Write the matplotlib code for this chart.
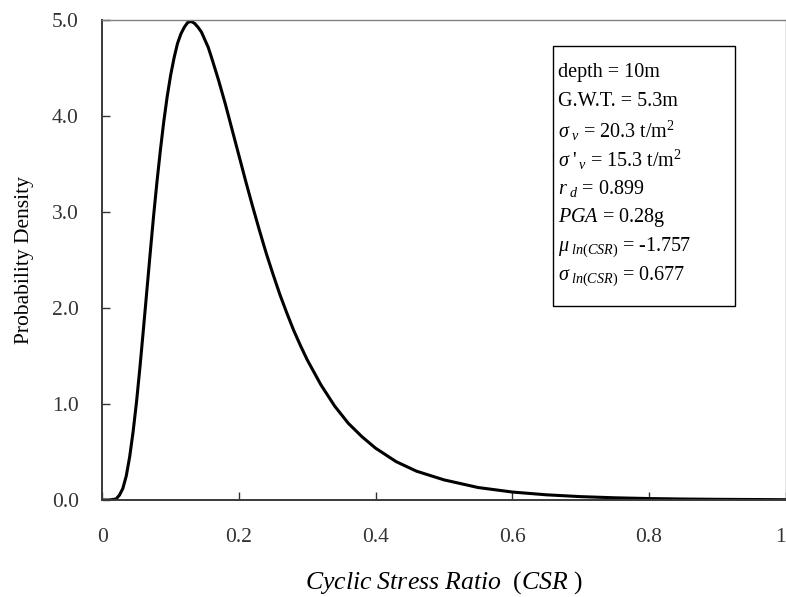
import matplotlib
matplotlib.use("Agg")
import matplotlib.pyplot as plt
from matplotlib.patches import Rectangle

plt.rcParams['font.family'] = ['Liberation Serif', 'DejaVu Serif']
plt.rcParams['mathtext.fontset'] = 'custom'
plt.rcParams['mathtext.rm'] = 'Liberation Serif'
plt.rcParams['mathtext.it'] = 'Liberation Serif:italic'
plt.rcParams['mathtext.bf'] = 'Liberation Serif:bold'

# curve (CSR, probability density)
csr = [0.00, 0.01, 0.02, 0.025, 0.03, 0.035, 0.04, 0.045, 0.05, 0.055,
       0.06, 0.065, 0.07, 0.075, 0.08, 0.085, 0.09, 0.095, 0.10, 0.105,
       0.11, 0.115, 0.12, 0.125, 0.13, 0.135, 0.14, 0.145, 0.15, 0.155,
       0.16, 0.17, 0.18, 0.19, 0.20, 0.21,
       0.22, 0.23, 0.24, 0.25, 0.26, 0.27, 0.28, 0.29, 0.30, 0.32,
       0.34, 0.36, 0.38, 0.40, 0.43, 0.46, 0.50, 0.55, 0.60, 0.65,
       0.70, 0.75, 0.80, 0.85, 0.90, 0.95, 1.00]
density = [0.00, 0.00, 0.01, 0.05, 0.12, 0.25, 0.45, 0.71, 1.02, 1.38,
           1.77, 2.17, 2.57, 2.96, 3.32, 3.65, 3.95, 4.21, 4.43, 4.61,
           4.76, 4.86, 4.93, 4.98, 4.99, 4.97, 4.93, 4.88, 4.80, 4.72,
           4.61, 4.38, 4.13, 3.86, 3.59, 3.32,
           3.06, 2.81, 2.57, 2.35, 2.14, 1.95, 1.77, 1.61, 1.46, 1.20,
           0.98, 0.80, 0.66, 0.54, 0.40, 0.30, 0.21, 0.13, 0.083, 0.054,
           0.035, 0.023, 0.015, 0.010, 0.007, 0.005, 0.003]

x_ticks = [0, 0.2, 0.4, 0.6, 0.8, 1.0]
x_tick_labels = ['0', '0.2', '0.4', '0.6', '0.8', '1']
y_ticks = [0, 1, 2, 3, 4, 5]
y_tick_labels = ['0.0', '1.0', '2.0', '3.0', '4.0', '5.0']

info_lines = [
    'depth = 10m',
    'G.W.T. = 5.3m',
    r'$\sigma_{\ v}$ = 20.3 t/m$^2$',
    r"$\sigma\ '_{\,v}$ = 15.3 t/m$^2$",
    r'$r_{\ d}$ = 0.899',
    r'$PGA$ = 0.28g',
    r'$\mu_{\ ln(CSR)}$ = -1.757',
    r'$\sigma_{\ ln(CSR)}$ = 0.677',
]

fig = plt.figure(figsize=(7.86, 5.97), dpi=100)
ax = fig.add_axes([0.1302, 0.1625, 0.8692, 0.8032])

ax.plot(csr, density, color='black', lw=2.2)

ax.set_xlim(0, 1)
ax.set_ylim(0, 5)
ax.set_xticks(x_ticks)
ax.set_xticklabels(x_tick_labels)
ax.set_yticks(y_ticks)
ax.set_yticklabels(y_tick_labels)
ax.tick_params(axis='both', direction='in', length=5.5, width=1, labelsize=15.5, colors='#333333')
ax.tick_params(axis='x', pad=20)
ax.tick_params(axis='y', pad=17)
# last label sits on the figure edge, keep it inside
ax.get_xticklabels()[-1].set_ha('right')

for s in ['left', 'bottom']:
    ax.spines[s].set_color('#3a3a3a')
    ax.spines[s].set_linewidth(1.4)
for s in ['top', 'right']:
    ax.spines[s].set_color('#808080')
    ax.spines[s].set_linewidth(1.0)

# axis titles
fig.text(25 / 786, 1 - 260 / 597, 'Probability Density', rotation=90,
         ha='center', va='center', fontsize=15.5)
fig.text(444 / 786, 1 - 583 / 597, r'$Cyclic\ Stress\ Ratio\ \ \mathrm{(}CSR\ \mathrm{)}$',
         ha='center', va='center', fontsize=18.5)

# parameter box
ax.add_patch(Rectangle((0.6597, 0.4052), 0.2663, 0.5423, transform=ax.transAxes,
                       fill=False, edgecolor='black', lw=1.0))
for i, line in enumerate(info_lines):
    yc = 73 + 29 * i
    ax.text(0.667, (500 - yc) / 479.5, line, transform=ax.transAxes,
            ha='left', va='center', fontsize=14.5)

fig.savefig('out.png', dpi=100)
